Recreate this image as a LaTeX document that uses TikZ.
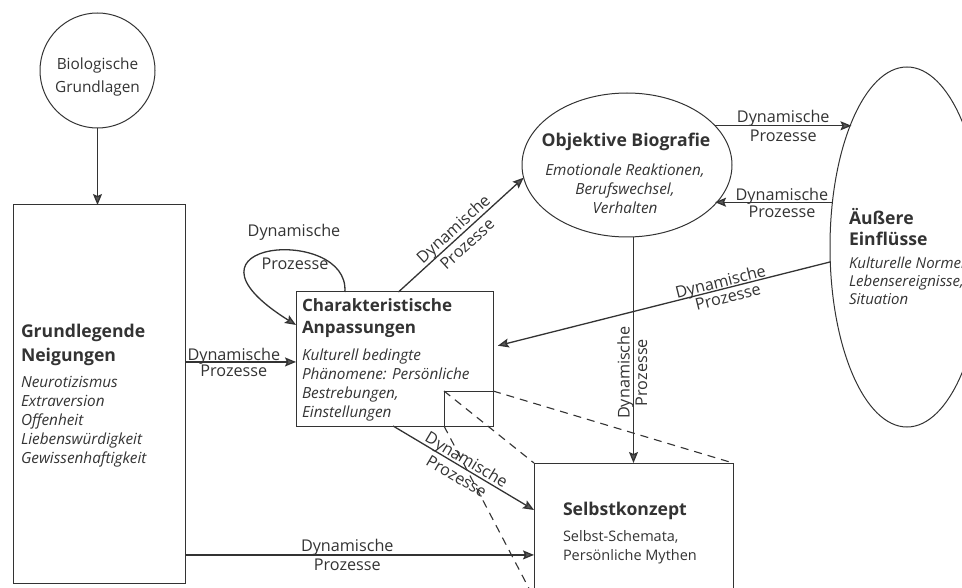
\documentclass[tikz,border=0pt]{standalone}
\usepackage{fontspec}
\setmainfont{Open Sans}
\usetikzlibrary{arrows.meta,shapes.geometric,calc}
\definecolor{ink}{HTML}{333333}
\definecolor{tipgray}{HTML}{5A5A5A}
\begin{document}
\begin{tikzpicture}[x=1pt,y=-1pt,color=ink,
  every node/.style={outer sep=0pt,inner sep=0pt},
  shapebox/.style={draw,rectangle,line width=1pt},
  shapeell/.style={draw,ellipse,line width=1pt},
  conn/.style={line width=1.3pt,-{Stealth[length=11pt,width=9pt,inset=2pt,fill=tipgray]}},
  connr/.style={line width=1.3pt,{Stealth[length=11pt,width=9pt,inset=2pt,fill=tipgray]}-},
  lbl/.style={font=\fontsize{16.2}{22}\selectfont},
  headtxt/.style={font=\fontsize{17.6}{24}\selectfont\bfseries,align=left,anchor=west},
  bodytxt/.style={font=\fontsize{15.3}{19}\selectfont\itshape,align=left,anchor=west},
  lensline/.style={line width=1.1pt,dash pattern=on 8pt off 6pt}
]
\useasboundingbox (0,0) rectangle (962,588);
\clip (0,0) rectangle (962,588);

% shapes
\node[draw,circle,line width=1pt,minimum size=115pt] (bio) at (97.5,70.5) {};
\node[lbl,font=\fontsize{15.4}{23}\selectfont,align=center] (biot) at (97.5,77) {Biologische\\Grundlagen};

\node[shapebox,minimum width=172pt,minimum height=378pt] (grund) at (99,394) {};
\node[headtxt] (grundh) at (21,345) {Grundlegende\\Neigungen};
\node[bodytxt] (grundb) at (21,422) {Neurotizismus\\Extraversion\\Offenheit\\Liebenswürdigkeit\\Gewissenhaftigkeit};

\node[shapebox,minimum width=197pt,minimum height=134pt] (char) at (394.5,359) {};
\node[headtxt,font=\fontsize{17}{22}\selectfont\bfseries] (charh) at (302,318) {Charakteristische\\Anpassungen};
\node[bodytxt] (charb) at (302,385) {Kulturell bedingte\\Phänomene: Persönliche\\Bestrebungen,\\Einstellungen};
\node[draw,rectangle,line width=1pt,minimum width=49pt,minimum height=35pt] (lens) at (468.5,408.5) {};

\node[shapebox,minimum width=199pt,minimum height=135pt] (selbst) at (633.5,530.5) {};
\node[headtxt] (selbsth) at (563,511) {Selbstkonzept};
\node[font=\fontsize{14.5}{18.5}\selectfont,align=left,anchor=west] (selbstb) at (563,547) {Selbst-Schemata,\\Persönliche Mythen};

\node[shapeell,minimum width=210pt,minimum height=144pt] (obj) at (627,165) {};
\node[headtxt,anchor=center] (objh) at (626,142) {Objektive Biografie};
\node[bodytxt,align=center,anchor=center] (objb) at (625,188.5) {Emotionale Reaktionen,\\Berufswechsel,\\Verhalten};

\node[shapeell,minimum width=154pt,minimum height=360pt] (aus) at (907,247) {};
\node[headtxt,font=\fontsize{17.6}{20.5}\selectfont\bfseries] (aush) at (849,227) {Äußere\\Einflüsse};
\node[bodytxt,font=\fontsize{15}{18}\selectfont\itshape] (ausb) at (849,281) {Kulturelle Normen\\Lebensereignisse,\\Situation};

% anchor points
\coordinate (cIn) at ($(char.north west)!0.522!(char.south west)$);
\coordinate (cLoopEnd) at ($(char.north west)!0.246!(char.south west)$);
\coordinate (cLoopStart) at ($(char.north west)!0.248!(char.north east)$);
\coordinate (cTop) at ($(char.north west)!0.52!(char.north east)$);
\coordinate (cRight) at ($(char.north east)!0.41!(char.south east)$);
\coordinate (cBot) at ($(char.south west)!0.493!(char.south east)$);
\coordinate (sIn1) at ($(selbst.north west)!0.348!(selbst.south west)$);
\coordinate (sIn2) at ($(selbst.north west)!0.681!(selbst.south west)$);

% connectors
\draw[conn] (bio.south) -- (bio.south |- grund.north);

\draw[conn] (grund.east |- cIn) -- node[lbl,above=-2.5pt,pos=0.44]{Dynamische} node[lbl,below=3pt,pos=0.44]{Prozesse} (cIn);

\draw[conn] (cLoopStart) .. controls +(5,-67) and +(-136,-85) .. (cLoopEnd);
\node[lbl] (loopa) at (294,232) {Dynamische};
\node[lbl] (loopb) at (295,264) {Prozesse};

\draw[conn] (cTop) -- node[lbl,sloped,above=0pt,pos=0.49]{Dynamische} node[lbl,sloped,below=5pt,pos=0.49]{Prozesse} (obj.187.2);

\draw[conn] (obj.24.6) -- node[lbl,above=-1pt]{Dynamische} node[lbl,below=4pt]{Prozesse} (aus.114.9 |- obj.24.6);

\draw[conn] (aus.149.5) -- node[lbl,above=-2pt,pos=0.43]{Dynamische} node[lbl,below=4pt,pos=0.43]{Prozesse} (obj.336.9 |- aus.149.5);

\draw[connr,shorten <=5pt] (cRight) -- node[lbl,sloped,above=-2pt,pos=0.68]{Dynamische} node[lbl,sloped,below=3pt,pos=0.69]{Prozesse} (aus.191.1);

\draw[conn] (selbst.north |- obj.south) -- node[lbl,rotate=90,anchor=south,pos=0.6]{Dynamische} node[lbl,rotate=90,anchor=north,inner sep=2pt,pos=0.6]{Prozesse} (selbst.north);

\draw[conn] (cBot) -- node[lbl,sloped,above=-1pt,pos=0.49]{Dynamische} node[lbl,sloped,below=5pt,pos=0.49]{Prozesse} (sIn1);

\draw[conn] (grund.east |- sIn2) -- node[lbl,above=0pt,pos=0.465]{Dynamische} node[lbl,below=4pt,pos=0.465]{Prozesse} (sIn2);

% zoom lines
\draw[lensline] (lens.north west) -- (selbst.north west);
\draw[lensline] (lens.north east) -- (selbst.north east);
\draw[lensline] (lens.south west) -- (selbst.south west);
\end{tikzpicture}
\end{document}
